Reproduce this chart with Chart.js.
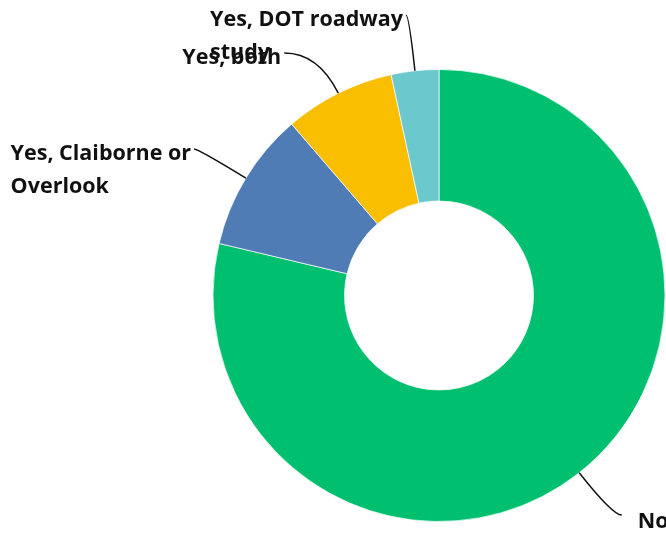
<!DOCTYPE html>
<html>
<head>
<meta charset="utf-8">
<script src="https://cdn.jsdelivr.net/npm/chart.js@4/dist/chart.umd.min.js"></script>
<style>
  html, body { margin: 0; padding: 0; background: #fff; overflow: hidden; }
  #wrap { width: 666px; height: 533px; position: relative; }
</style>
</head>
<body>
<div id="wrap"><canvas id="my-chart"></canvas></div>
<script>
// answers (percent of responses)
const categories = ['No', 'Yes, Claiborne or Overlook', 'Yes, both', 'Yes, DOT roadway study'];
const values = [78.7, 10.0, 7.9, 3.4];
const colors = ['#00BF6F', '#507CB6', '#F9BE00', '#6BC8CD'];

// leader line: radial length out of the ring, then horizontal run (+ right / - left)
const leaders = [
  { ext: 54, run: 9 },
  { ext: 56, run: -4 },
  { ext: 45, run: -34 },
  { ext: 56, run: -3 }
];

const labelFont = 'bold 21.5px "Open Sans"';

function wrapText(ctx, text, maxW) {
  const words = text.split(' ');
  const lines = [];
  let cur = '';
  words.forEach(w => {
    const test = cur ? cur + ' ' + w : w;
    if (ctx.measureText(test).width > maxW && cur) {
      lines.push(cur);
      cur = w;
    } else {
      cur = test;
    }
  });
  if (cur) lines.push(cur);
  return lines;
}

const calloutPlugin = {
  id: 'callouts',
  afterDatasetsDraw(chart) {
    const ctx = chart.ctx;
    const meta = chart.getDatasetMeta(0);
    ctx.save();
    ctx.font = labelFont;
    ctx.fillStyle = '#111';
    ctx.strokeStyle = '#111';
    ctx.lineWidth = 1.5;
    meta.data.forEach((arc, i) => {
      const p = arc.getProps(['x', 'y', 'startAngle', 'endAngle', 'outerRadius'], true);
      const mid = (p.startAngle + p.endAngle) / 2;
      const dx = Math.cos(mid), dy = Math.sin(mid);
      const sx = p.x + dx * p.outerRadius, sy = p.y + dy * p.outerRadius;
      const L = leaders[i];
      const cx = sx + dx * L.ext, cy = sy + dy * L.ext;
      const ex = cx + L.run, ey = cy;
      ctx.beginPath();
      ctx.moveTo(sx, sy);
      ctx.quadraticCurveTo(cx, cy, ex, ey);
      ctx.stroke();

      const lines = wrapText(ctx, categories[i], 205);
      const w = Math.max(...lines.map(l => ctx.measureText(l).width));
      ctx.textAlign = 'left';
      ctx.textBaseline = 'alphabetic';
      let left, base;
      if (L.run > 0) {
        left = ex + 16;
        base = ey + 13;
      } else {
        left = ex - 3 - w;
        base = ey + 11;
      }
      lines.forEach((l, k) => ctx.fillText(l, left, base + k * 33));
    });
    ctx.restore();
  }
};

const ctx = document.getElementById('my-chart').getContext('2d');
const chart = new Chart(ctx, {
  type: 'doughnut',
  data: {
    labels: categories,
    datasets: [{
      data: values,
      backgroundColor: colors,
      borderColor: 'rgba(255,255,255,0.7)',
      borderWidth: 1
    }]
  },
  options: {
    responsive: true,
    maintainAspectRatio: false,
    animation: false,
    cutout: '41.8%',
    layout: { padding: { left: 212, right: -1, top: 69, bottom: 11 } },
    plugins: {
      legend: { display: false },
      tooltip: { enabled: false }
    }
  },
  plugins: [calloutPlugin]
});
</script>
</body>
</html>
